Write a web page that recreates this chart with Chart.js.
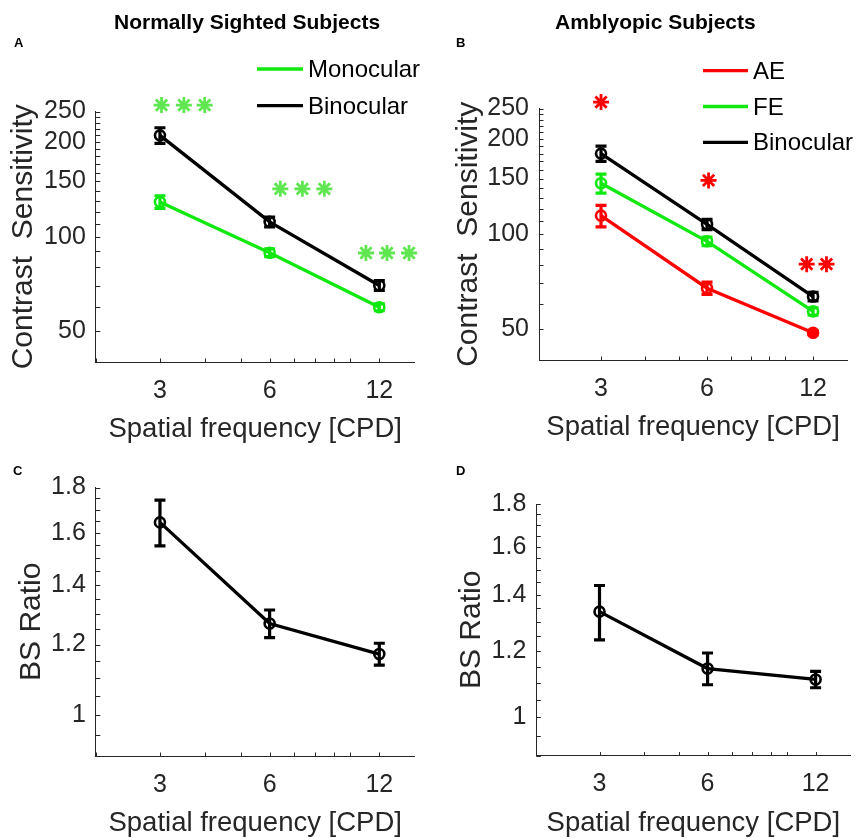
<!DOCTYPE html>
<html>
<head>
<meta charset="utf-8">
<script src="https://cdn.jsdelivr.net/npm/chart.js@4.4.1/dist/chart.umd.min.js"></script>
<style>
  html, body { margin: 0; padding: 0; background: #fff; }
  #wrap { position: relative; width: 858px; height: 838px; overflow: hidden; background: #fff; }
  #wrap canvas { position: absolute; left: 0; top: 0; pointer-events: none; }
</style>
</head>
<body>
<div id="wrap">
  <canvas id="chartA" width="858" height="900"></canvas>
  <canvas id="chartB" width="858" height="900"></canvas>
  <canvas id="chartC" width="858" height="900"></canvas>
  <canvas id="chartD" width="858" height="900"></canvas>
</div>
<script>
// --- data ---
const freqs = [3, 6, 12];
const freqTicks = [3, 6, 12];
const freqMinor = [2, 4, 5, 7, 8, 9, 10];

const csTicks = [50, 100, 150, 200, 250];
const csMinor = [40, 60, 70, 80, 90, 110, 120, 130, 140, 160, 170, 180, 190, 210, 220, 230, 240];
const ratioTicks = [1, 1.2, 1.4, 1.6, 1.8];
const ratioMinor = [0.9, 0.95, 1.05, 1.1, 1.15, 1.25, 1.3, 1.35, 1.45, 1.5, 1.55, 1.65, 1.7, 1.75];

// normally sighted, contrast sensitivity
const normMono = [129, 89, 59.7];
const normMonoErr = [6, 2.5, 1.5];
const normBino = [210, 111.5, 70];
const normBinoErr = [12, 4, 2.5];

// amblyopic, contrast sensitivity
const amblyAE = [114.5, 67.5, 48.8];
const amblyAEErr = [9, 3, 0.8];
const amblyFE = [145, 95, 57];
const amblyFEErr = [10, 3, 1.5];
const amblyBino = [180, 107.5, 63.5];
const amblyBinoErr = [10, 4, 2];

// binocular summation ratios
const ratioNorm = [1.645, 1.267, 1.171];
const ratioNormErr = [0.097, 0.045, 0.033];
const ratioAmbly = [1.338, 1.144, 1.11];
const ratioAmblyErr = [0.1, 0.05, 0.025];

// significance stars
const normStarX = [3.03, 3.49, 3.98, 6.42, 7.38, 8.48, 11.03, 12.6, 14.48];
const normStarY = [262, 262, 262, 142, 142, 142, 88.8, 88.8, 88.8];
const amblyStarX = [3, 6.06, 11.51, 13.1];
const amblyStarY = [262, 148, 80.4, 80.4];

// --- styling ---
const FONT = "'Liberation Sans', Arial, Helvetica, sans-serif";
const AXIS = '#262626';
const GREEN = '#10e810';
const STAR_GREEN = '#5fe650';
const RED = '#ff0000';
const BLACK = '#000000';
const CW = 858, CH = 900, X_AXIS_H = 84;

const pts = (xs, ys) => xs.map((x, i) => ({ x: x, y: ys[i] }));

function series(label, values, errors, color, fill) {
  return {
    label: label,
    data: pts(freqs, values),
    errors: errors,
    borderColor: color,
    backgroundColor: color,
    borderWidth: 3.3,
    pointRadius: 5,
    pointBorderWidth: 2.6,
    pointBorderColor: color,
    pointBackgroundColor: fill || 'rgba(255,255,255,0)',
    tension: 0,
    clip: false
  };
}

function stars(xs, ys, color) {
  return {
    isMarker: true,
    data: pts(xs, ys),
    showLine: false,
    pointStyle: 'star',
    pointRadius: 8,
    pointBorderWidth: 2.8,
    borderColor: color,
    pointBorderColor: color,
    clip: false
  };
}

const errorBars = {
  id: 'errorBars',
  afterDatasetDraw(chart, args) {
    const ds = chart.data.datasets[args.index];
    if (!ds.errors) return;
    const { ctx, scales: { x, y } } = chart;
    ctx.save();
    ctx.strokeStyle = ds.borderColor;
    ctx.lineWidth = 3.2;
    ds.data.forEach((p, i) => {
      const e = ds.errors[i];
      const px = x.getPixelForValue(p.x);
      const top = y.getPixelForValue(p.y + e);
      const bot = y.getPixelForValue(p.y - e);
      ctx.beginPath();
      ctx.moveTo(px, top); ctx.lineTo(px, bot);
      ctx.moveTo(px - 5.5, top); ctx.lineTo(px + 5.5, top);
      ctx.moveTo(px - 5.5, bot); ctx.lineTo(px + 5.5, bot);
      ctx.stroke();
    });
    ctx.restore();
  }
};

// MATLAB style inward tick marks
const inTicks = {
  id: 'inTicks',
  afterDraw(chart, args, opts) {
    const { ctx, chartArea: a, scales: { x, y } } = chart;
    ctx.save();
    ctx.strokeStyle = AXIS;
    ctx.lineWidth = 1;
    ctx.beginPath();
    opts.x.forEach(v => {
      const px = Math.round(x.getPixelForValue(v)) + 0.5;
      ctx.moveTo(px, a.bottom); ctx.lineTo(px, a.bottom - 3.5);
    });
    opts.y.forEach(v => {
      const py = Math.round(y.getPixelForValue(v)) + 0.5;
      ctx.moveTo(a.left, py); ctx.lineTo(a.left + 4.5, py);
    });
    ctx.stroke();
    ctx.restore();
  }
};

const sideLegend = {
  id: 'sideLegend',
  afterDraw(chart, args, opts) {
    if (!opts.show) return;
    const ctx = chart.ctx;
    ctx.save();
    ctx.font = '24px ' + FONT;
    ctx.textBaseline = 'middle';
    ctx.textAlign = 'left';
    chart.data.datasets.filter(d => !d.isMarker).forEach((d, i) => {
      const yy = opts.y0 + i * opts.dy;
      ctx.strokeStyle = d.borderColor;
      ctx.lineWidth = 3.3;
      ctx.beginPath();
      ctx.moveTo(opts.x0, yy); ctx.lineTo(opts.x1, yy);
      ctx.stroke();
      ctx.fillStyle = '#000';
      ctx.fillText(d.label, opts.textX, yy + 1.5);
    });
    ctx.restore();
  }
};

const panelText = {
  id: 'panelText',
  afterDraw(chart, args, opts) {
    const ctx = chart.ctx;
    ctx.save();
    ctx.fillStyle = '#000';
    ctx.textBaseline = 'alphabetic';
    ctx.textAlign = 'left';
    if (opts.title) {
      ctx.font = 'bold 21px ' + FONT;
      ctx.fillText(opts.title, opts.titleX, opts.titleY);
    }
    ctx.font = 'bold 13px ' + FONT;
    ctx.fillText(opts.letter, opts.letterX, opts.letterY);
    ctx.restore();
  }
};

function makePanel(id, p) {
  const yW = p.box.left - p.axisLeft;
  return new Chart(document.getElementById(id), {
    type: 'line',
    data: { datasets: p.datasets },
    options: {
      responsive: false,
      animation: false,
      devicePixelRatio: 1,
      events: [],
      layout: {
        padding: {
          left: p.axisLeft,
          top: p.box.top,
          right: CW - p.box.right,
          bottom: CH - p.box.bottom - X_AXIS_H
        }
      },
      plugins: {
        legend: { display: false },
        tooltip: { enabled: false },
        title: { display: false },
        inTicks: { x: freqMinor.concat(freqTicks), y: p.yMinor.concat(p.yTicks) },
        sideLegend: p.legend,
        panelText: p.text
      },
      scales: {
        x: {
          type: 'logarithmic',
          min: 2,
          max: 15,
          afterBuildTicks: s => { s.ticks = freqTicks.map(v => ({ value: v })); },
          afterFit: s => { s.height = X_AXIS_H; },
          ticks: {
            callback: v => String(v),
            autoSkip: false,
            maxRotation: 0,
            padding: 14,
            color: AXIS,
            font: { family: FONT, size: 25 }
          },
          grid: { display: false, drawTicks: false },
          border: { display: true, color: AXIS, width: 1 },
          title: {
            display: true,
            text: 'Spatial frequency [CPD]',
            color: AXIS,
            font: { family: FONT, size: 27.5 },
            padding: { top: 0, bottom: 0 }
          }
        },
        y: {
          type: 'logarithmic',
          min: p.yMin,
          max: p.yMax,
          afterBuildTicks: s => { s.ticks = p.yTicks.map(v => ({ value: v })); },
          afterFit: s => { s.width = yW; },
          ticks: {
            callback: v => String(v),
            autoSkip: false,
            padding: 10,
            color: AXIS,
            font: { family: FONT, size: 25 }
          },
          grid: { display: false, drawTicks: false },
          border: { display: true, color: AXIS, width: 1 },
          title: {
            display: true,
            text: p.yTitle,
            color: AXIS,
            font: { family: FONT, size: 30 },
            padding: { top: p.yTitlePad, bottom: 0 }
          }
        }
      }
    },
    plugins: [errorBars, inTicks, sideLegend, panelText]
  });
}

makePanel('chartA', {
  axisLeft: 0,
  box: { left: 95.8, top: 111.5, right: 414.6, bottom: 362 },
  yMin: 40, yMax: 250, yTicks: csTicks, yMinor: csMinor,
  yTitle: 'Contrast  Sensitivity', yTitlePad: 6,
  datasets: [
    stars(normStarX, normStarY, STAR_GREEN),
    series('Monocular', normMono, normMonoErr, GREEN),
    series('Binocular', normBino, normBinoErr, BLACK)
  ],
  legend: { show: true, x0: 257, x1: 303, textX: 308, y0: 69, dy: 36.7 },
  text: { title: 'Normally Sighted Subjects', titleX: 114, titleY: 29, letter: 'A', letterX: 14, letterY: 47 }
});

makePanel('chartB', {
  axisLeft: 430,
  box: { left: 539, top: 108.5, right: 858, bottom: 360 },
  yMin: 40, yMax: 250, yTicks: csTicks, yMinor: csMinor,
  yTitle: 'Contrast  Sensitivity', yTitlePad: 20.5,
  datasets: [
    stars(amblyStarX, amblyStarY, RED),
    series('AE', amblyAE, amblyAEErr, RED, ['rgba(255,255,255,0)', 'rgba(255,255,255,0)', RED]),
    series('FE', amblyFE, amblyFEErr, GREEN),
    series('Binocular', amblyBino, amblyBinoErr, BLACK)
  ],
  legend: { show: true, x0: 703, x1: 748, textX: 753, y0: 70.7, dy: 35.8 },
  text: { title: 'Amblyopic Subjects', titleX: 555, titleY: 28.5, letter: 'B', letterX: 456, letterY: 47 }
});

makePanel('chartC', {
  axisLeft: 0,
  box: { left: 95.8, top: 487.5, right: 414.6, bottom: 756 },
  yMin: 0.9, yMax: 1.8, yTicks: ratioTicks, yMinor: ratioMinor,
  yTitle: 'BS Ratio', yTitlePad: 14,
  datasets: [
    series('BS Ratio', ratioNorm, ratioNormErr, BLACK)
  ],
  legend: { show: false },
  text: { letter: 'C', letterX: 13, letterY: 475 }
});

makePanel('chartD', {
  axisLeft: 430,
  box: { left: 536.3, top: 504, right: 856.1, bottom: 755.6 },
  yMin: 0.9, yMax: 1.8, yTicks: ratioTicks, yMinor: ratioMinor,
  yTitle: 'BS Ratio', yTitlePad: 24,
  datasets: [
    series('BS Ratio', ratioAmbly, ratioAmblyErr, BLACK)
  ],
  legend: { show: false },
  text: { letter: 'D', letterX: 456, letterY: 475 }
});
</script>
</body>
</html>
